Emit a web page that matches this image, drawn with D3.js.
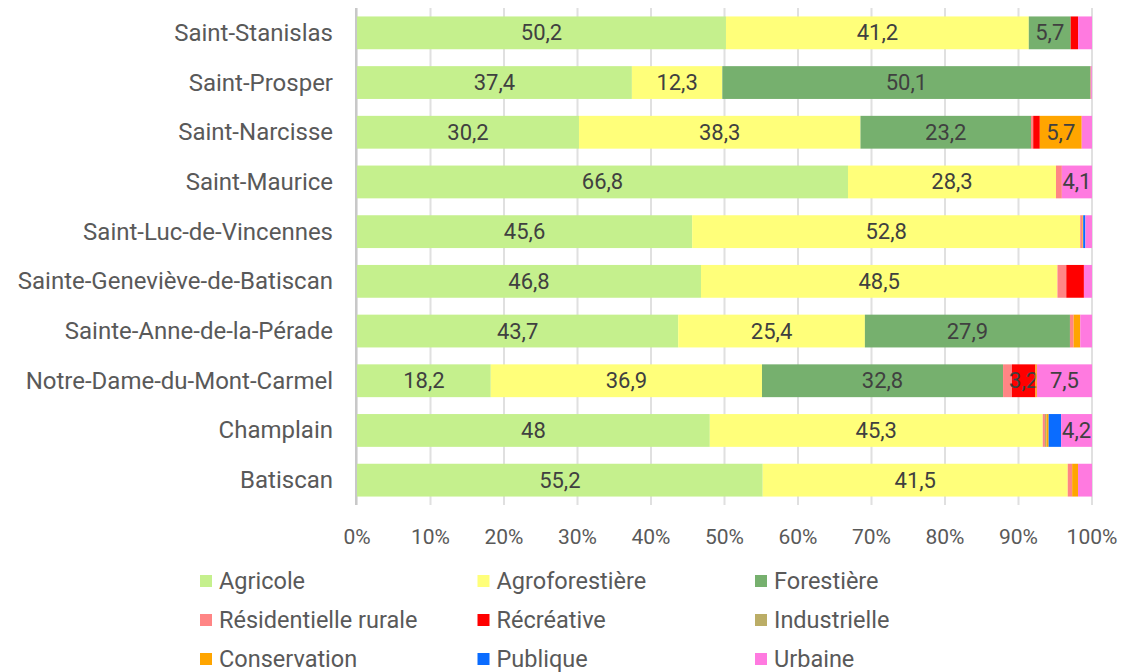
<!DOCTYPE html>
<html>
<head>
<meta charset="utf-8">
<script src="https://cdn.jsdelivr.net/npm/d3@7"></script>
<style>
  body { margin: 0; background: #fff; }
  svg { display: block; font-family: Roboto, sans-serif; }
</style>
</head>
<body>
<svg id="chart" width="1123" height="672"></svg>
<script>
/* global d3 */

const categories = [
  'Saint-Stanislas', 'Saint-Prosper', 'Saint-Narcisse', 'Saint-Maurice',
  'Saint-Luc-de-Vincennes', 'Sainte-Geneviève-de-Batiscan', 'Sainte-Anne-de-la-Pérade',
  'Notre-Dame-du-Mont-Carmel', 'Champlain', 'Batiscan'
]

const seriesNames = ['Agricole', 'Agroforestière', 'Forestière', 'Résidentielle rurale',
  'Récréative', 'Industrielle', 'Conservation', 'Publique', 'Urbaine']
const seriesColors = ['#c5f08d', '#ffff7a', '#76b06e', '#ff8585', '#ff0000',
  '#bbad66', '#ffa500', '#0a6cff', '#ff7ae0']

const agricole = [50.2, 37.4, 30.2, 66.8, 45.6, 46.8, 43.7, 18.2, 48, 55.2]
const agroforestiere = [41.2, 12.3, 38.3, 28.3, 52.8, 48.5, 25.4, 36.9, 45.3, 41.5]
const forestiere = [5.7, 50.1, 23.2, 0, 0, 0, 27.9, 32.8, 0, 0]
const residentielle = [0, 0.1, 0.3, 0.8, 0.3, 1.2, 0.5, 1.2, 0.3, 0.6]
const recreative = [1.0, 0, 0.9, 0, 0, 2.4, 0, 3.2, 0, 0]
const industrielle = [0, 0, 0, 0, 0, 0, 0, 0, 0.2, 0]
const conservation = [0, 0, 5.7, 0, 0.1, 0, 0.9, 0.2, 0.3, 0.8]
const publique = [0, 0, 0, 0, 0.3, 0, 0, 0, 1.7, 0]
const urbaine = [1.9, 0.1, 1.4, 4.1, 0.9, 1.1, 1.6, 7.5, 4.2, 1.9]

const xTicks = [0, 10, 20, 30, 40, 50, 60, 70, 80, 90, 100]

const seriesValues = [agricole, agroforestiere, forestiere, residentielle, recreative,
  industrielle, conservation, publique, urbaine]

const rows = categories.map((name, i) => {
  const row = { name }
  seriesNames.forEach((s, j) => { row[s] = seriesValues[j][i] })
  return row
})

const stack = d3.stack().keys(seriesNames)(rows)

const svg = d3.select('#chart')

const x = d3.scaleLinear().domain([0, 100]).range([357, 1092])
const y = d3.scaleBand().domain(categories).range([8, 505]).paddingInner(0.34).paddingOuter(0.17)

// gridlines + tick marks
svg.append('g')
  .selectAll('line')
  .data(xTicks)
  .join('line')
  .attr('x1', d => x(d))
  .attr('x2', d => x(d))
  .attr('y1', 8)
  .attr('y2', 505)
  .attr('stroke', '#e0e0e0')
  .attr('stroke-width', 2)

// category axis line
svg.append('line')
  .attr('x1', x(0) - 1).attr('x2', x(0) - 1)
  .attr('y1', 8).attr('y2', 505)
  .attr('stroke', '#c8c8c8')
  .attr('stroke-width', 2)

const layers = svg.append('g')
  .selectAll('g')
  .data(stack)
  .join('g')
  .attr('fill', (d, i) => seriesColors[i])

layers.selectAll('rect')
  .data(d => d)
  .join('rect')
  .attr('x', d => x(d[0]))
  .attr('y', d => y(d.data.name))
  .attr('width', d => Math.max(0, x(d[1]) - x(d[0])))
  .attr('height', y.bandwidth())

// data labels
const fmt = v => String(v).replace('.', ',')
layers.selectAll('text')
  .data(d => d.filter(p => p[1] - p[0] >= 3))
  .join('text')
  .attr('x', d => (x(d[0]) + x(d[1])) / 2)
  .attr('y', d => y(d.data.name) + y.bandwidth() / 2)
  .attr('text-anchor', 'middle')
  .attr('dominant-baseline', 'central')
  .attr('fill', '#404040')
  .attr('font-size', 22)
  .text(d => fmt(Math.round((d[1] - d[0]) * 10) / 10))

// category labels
svg.append('g')
  .selectAll('text')
  .data(categories)
  .join('text')
  .attr('x', 333)
  .attr('y', d => y(d) + y.bandwidth() / 2)
  .attr('text-anchor', 'end')
  .attr('dominant-baseline', 'central')
  .attr('fill', '#595959')
  .attr('font-size', 24)
  .text(d => d)

// x tick labels
svg.append('g')
  .selectAll('text')
  .data(xTicks)
  .join('text')
  .attr('x', d => x(d))
  .attr('y', 537)
  .attr('text-anchor', 'middle')
  .attr('dominant-baseline', 'central')
  .attr('fill', '#595959')
  .attr('font-size', 21)
  .text(d => d + '%')

// legend
const legend = svg.append('g')
  .selectAll('g')
  .data(seriesNames)
  .join('g')
  .attr('transform', (d, i) => 'translate(' + (219 + (i % 3) * 277.5) + ',' + (581 + Math.floor(i / 3) * 39) + ')')

legend.append('rect')
  .attr('x', -19)
  .attr('y', -6)
  .attr('width', 12)
  .attr('height', 12)
  .attr('fill', (d, i) => seriesColors[i])

legend.append('text')
  .attr('x', 0)
  .attr('y', 0)
  .attr('dominant-baseline', 'central')
  .attr('fill', '#595959')
  .attr('font-size', 23.5)
  .text(d => d)
</script>
</body>
</html>
